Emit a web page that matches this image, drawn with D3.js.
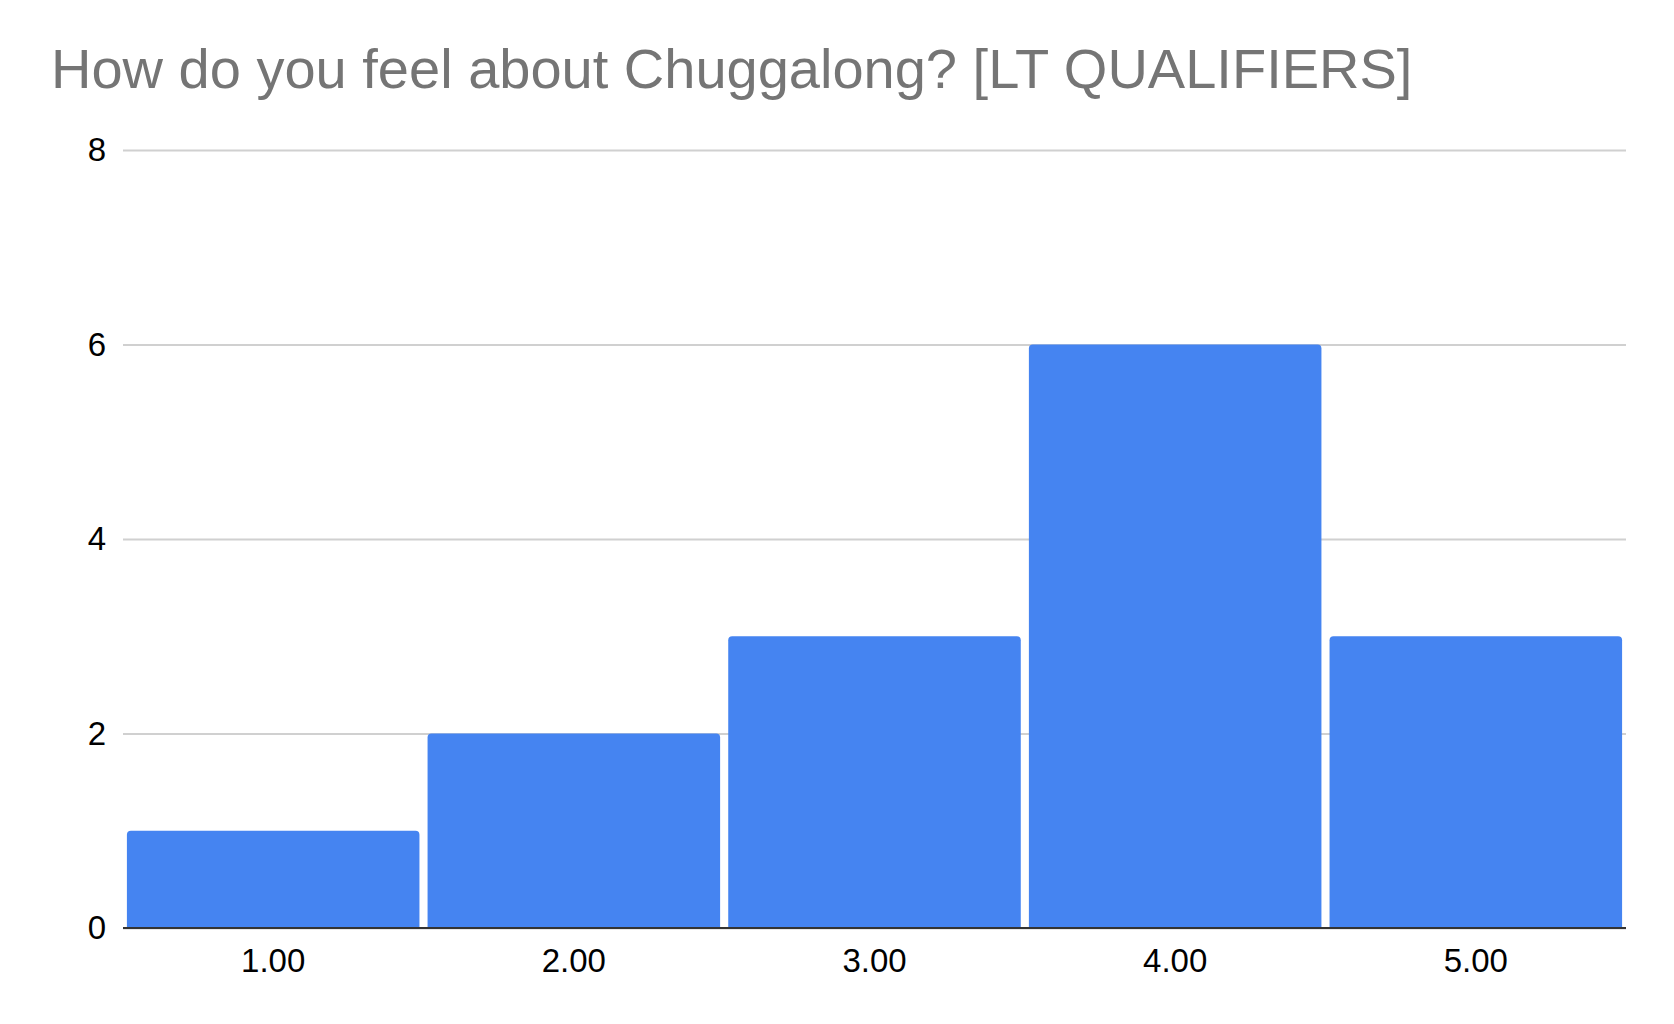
<!DOCTYPE html>
<html>
<head>
<meta charset="utf-8">
<script src="https://cdn.jsdelivr.net/npm/d3@7"></script>
<style>
  html, body { margin: 0; padding: 0; background: #fff; }
  svg { display: block; }
</style>
</head>
<body>
<svg id="chart" width="1674" height="1024"></svg>
<script>
const titleText = "How do you feel about Chuggalong? [LT QUALIFIERS]";
const categories = ["1.00", "2.00", "3.00", "4.00", "5.00"];
const counts = [1, 2, 3, 6, 3];
const yTicks = [0, 2, 4, 6, 8];

const W = 1674, H = 1024;
const margin = { left: 123, right: 48, top: 150, bottom: 96 };
const svg = d3.select("#chart");
const font = "'Liberation Sans', Arial, sans-serif";

const x = d3.scaleBand()
  .domain(categories)
  .range([margin.left, W - margin.right])
  .paddingInner(0.027)
  .paddingOuter(0.013);

const y = d3.scaleLinear()
  .domain([0, 8])
  .range([H - margin.bottom, margin.top]);

svg.append("text")
  .attr("x", 51)
  .attr("y", 88)
  .attr("font-family", font)
  .attr("font-size", 56)
  .attr("fill", "#757575")
  .text(titleText);

// gridlines + y labels
const yAxis = d3.axisLeft(y).tickValues(yTicks).tickSize(-(W - margin.left - margin.right)).tickPadding(17);
const gy = svg.append("g").attr("transform", `translate(${margin.left},0)`).call(yAxis);
gy.select(".domain").remove();
gy.selectAll(".tick line").attr("stroke", "#d0d0d0").attr("stroke-width", 2);
gy.selectAll(".tick text")
  .attr("font-family", font)
  .attr("font-size", 33)
  .attr("fill", "#000");

// bars
const r = 4;
svg.append("g").selectAll("path")
  .data(categories.map((c, i) => ({ c, v: counts[i] })))
  .join("path")
  .attr("fill", "#4584F1")
  .attr("d", d => {
    const x0 = x(d.c), x1 = x(d.c) + x.bandwidth();
    const y0 = y(0), y1 = y(d.v);
    return `M${x0},${y0} L${x0},${y1 + r} Q${x0},${y1} ${x0 + r},${y1} L${x1 - r},${y1} Q${x1},${y1} ${x1},${y1 + r} L${x1},${y0} Z`;
  });

// x axis
const xAxis = d3.axisBottom(x).tickSize(0).tickPadding(21);
const gx = svg.append("g").attr("transform", `translate(0,${y(0)})`).call(xAxis);
gx.select(".domain").attr("stroke", "#333").attr("stroke-width", 2)
  .attr("d", `M${margin.left},0H${W - margin.right}`);
gx.selectAll(".tick text")
  .attr("font-family", font)
  .attr("font-size", 33)
  .attr("fill", "#000");
</script>
</body>
</html>
